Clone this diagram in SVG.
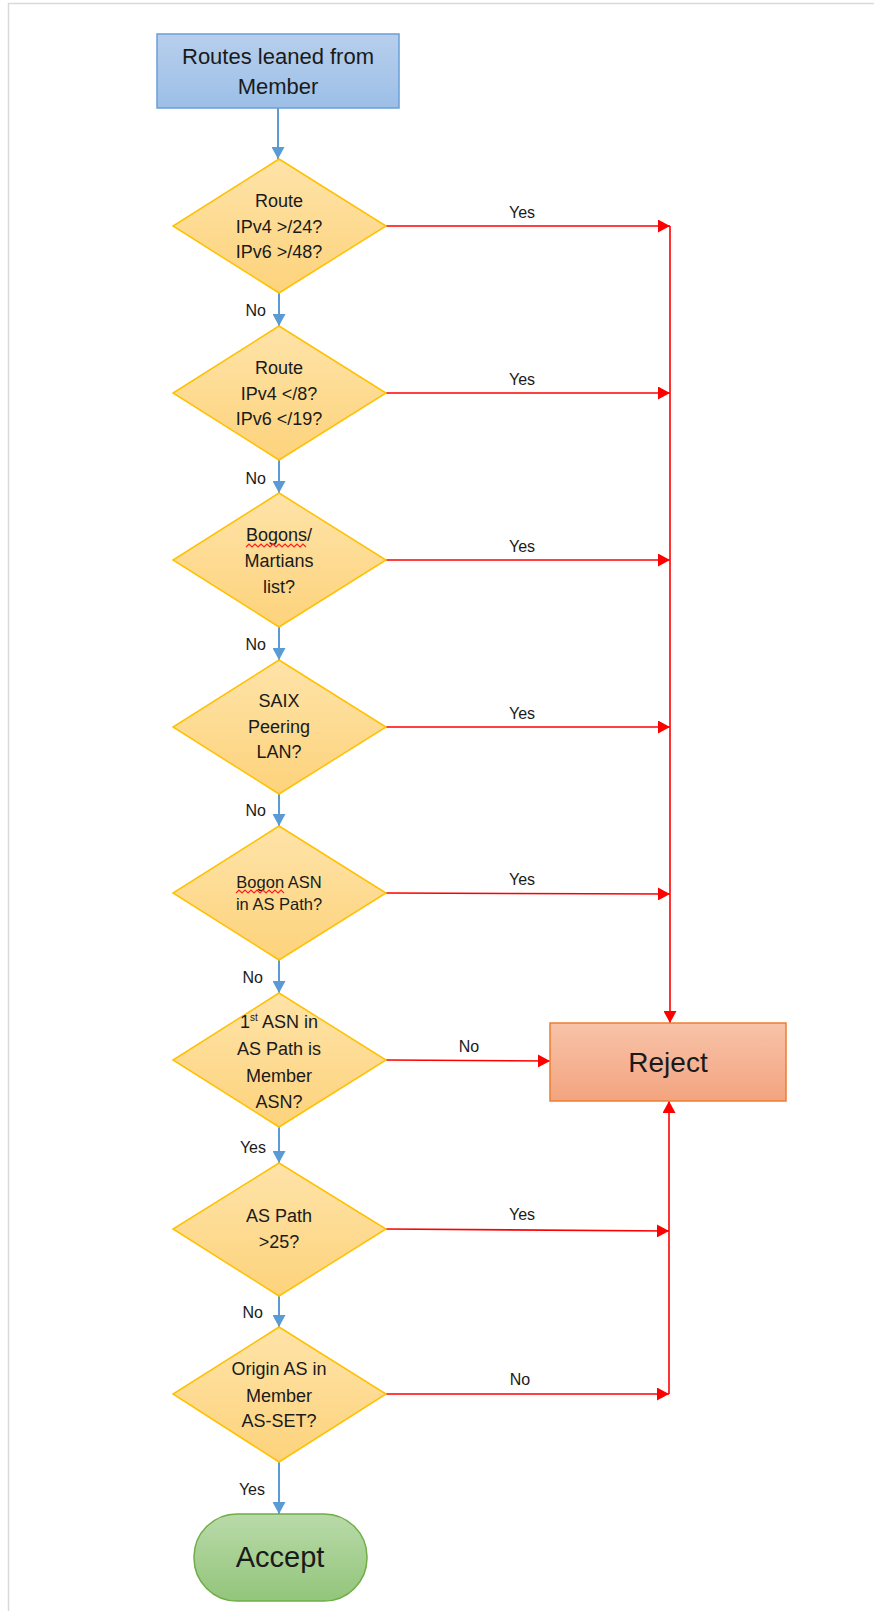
<svg xmlns="http://www.w3.org/2000/svg" width="874" height="1611" viewBox="0 0 874 1611">
<style>
.t{font-family:"Liberation Sans",Arial,sans-serif;fill:#1a1a1a;text-anchor:middle}
.d{font-size:18px}
.lbl{font-family:"Liberation Sans",Arial,sans-serif;font-size:16px;fill:#1a1a1a}
.dia{fill:url(#gY);stroke:#ffc000;stroke-width:1.5}
.blue{stroke:#5b9bd5;stroke-width:2;fill:none;marker-end:url(#aB)}
.redA{stroke:#ff0000;stroke-width:1.6;fill:none;marker-end:url(#aR)}
.sq{stroke:#ff2020;stroke-width:1.2;fill:none}
</style>
<defs>
<linearGradient id="gY" x1="0" y1="0" x2="0" y2="1"><stop offset="0" stop-color="#fee3a8"/><stop offset="1" stop-color="#fdd37c"/></linearGradient>
<linearGradient id="gB" x1="0" y1="0" x2="0" y2="1"><stop offset="0" stop-color="#b7cfec"/><stop offset="1" stop-color="#9cbfe7"/></linearGradient>
<linearGradient id="gR" x1="0" y1="0" x2="0" y2="1"><stop offset="0" stop-color="#f8c3a9"/><stop offset="1" stop-color="#f3a47f"/></linearGradient>
<linearGradient id="gG" x1="0" y1="0" x2="0" y2="1"><stop offset="0" stop-color="#b9daa9"/><stop offset="1" stop-color="#93c57b"/></linearGradient>
<marker id="aB" markerUnits="userSpaceOnUse" markerWidth="13" markerHeight="13" refX="12" refY="6.5" orient="auto"><path d="M0,0 L12,6.5 L0,13 z" fill="#5b9bd5"/></marker>
<marker id="aR" markerUnits="userSpaceOnUse" markerWidth="13" markerHeight="13" refX="12" refY="6.5" orient="auto"><path d="M0,0 L12,6.5 L0,13 z" fill="#ff0000"/></marker>
</defs>
<rect width="874" height="1611" fill="#ffffff"/>
<path d="M8.5,1611 V3.5 H874" stroke="#d9d9d9" stroke-width="1.5" fill="none"/>

<g id="connectors">
<line class="blue" x1="278" y1="108" x2="278" y2="159"/>
<line class="blue" x1="279" y1="293" x2="279" y2="326"/>
<line class="blue" x1="279" y1="460" x2="279" y2="493"/>
<line class="blue" x1="279" y1="627" x2="279" y2="660"/>
<line class="blue" x1="279" y1="794" x2="279" y2="826"/>
<line class="blue" x1="279" y1="960" x2="279" y2="993"/>
<line class="blue" x1="279" y1="1127" x2="279" y2="1163"/>
<line class="blue" x1="279" y1="1296" x2="279" y2="1327"/>
<line class="blue" x1="279" y1="1462" x2="279" y2="1514"/>
<text class="lbl" x="266" y="316" text-anchor="end">No</text>
<text class="lbl" x="266" y="484" text-anchor="end">No</text>
<text class="lbl" x="266" y="650" text-anchor="end">No</text>
<text class="lbl" x="266" y="816" text-anchor="end">No</text>
<text class="lbl" x="263" y="983" text-anchor="end">No</text>
<text class="lbl" x="266" y="1153" text-anchor="end">Yes</text>
<text class="lbl" x="263" y="1318" text-anchor="end">No</text>
<text class="lbl" x="265" y="1495" text-anchor="end">Yes</text>

<line class="redA" x1="386" y1="226" x2="670" y2="226"/>
<line class="redA" x1="386" y1="393" x2="670" y2="393"/>
<line class="redA" x1="386" y1="560" x2="670" y2="560"/>
<line class="redA" x1="386" y1="727" x2="670" y2="727"/>
<line class="redA" x1="386" y1="893" x2="670" y2="894"/>
<line class="redA" x1="386" y1="1060" x2="550" y2="1061"/>
<line class="redA" x1="386" y1="1229" x2="669" y2="1231"/>
<line class="redA" x1="386" y1="1394" x2="669" y2="1394"/>
<line class="redA" x1="670" y1="226" x2="670" y2="1023"/>
<line class="redA" x1="669" y1="1394" x2="669" y2="1101"/>
<text class="lbl" x="522" y="218" text-anchor="middle">Yes</text>
<text class="lbl" x="522" y="385" text-anchor="middle">Yes</text>
<text class="lbl" x="522" y="552" text-anchor="middle">Yes</text>
<text class="lbl" x="522" y="719" text-anchor="middle">Yes</text>
<text class="lbl" x="522" y="885" text-anchor="middle">Yes</text>
<text class="lbl" x="469" y="1052" text-anchor="middle">No</text>
<text class="lbl" x="522" y="1220" text-anchor="middle">Yes</text>
<text class="lbl" x="520" y="1385" text-anchor="middle">No</text>
</g>

<g id="start">
<rect x="157" y="34" width="242" height="74" fill="url(#gB)" stroke="#6a9fd8" stroke-width="1.5"/>
<text class="t" font-size="22" x="278" y="64">Routes leaned from</text>
<text class="t" font-size="22" x="278" y="94">Member</text>
</g>

<g id="d1">
<polygon class="dia" points="279,159 386,226 279,293 173,226"/>
<text class="t d" x="279" y="207">Route</text>
<text class="t d" x="279" y="233">IPv4 &gt;/24?</text>
<text class="t d" x="279" y="258">IPv6 &gt;/48?</text>
</g>

<g id="d2">
<polygon class="dia" points="279,326 386,393 279,460 173,393"/>
<text class="t d" x="279" y="374">Route</text>
<text class="t d" x="279" y="400">IPv4 &lt;/8?</text>
<text class="t d" x="279" y="425">IPv6 &lt;/19?</text>
</g>

<g id="d3">
<polygon class="dia" points="279,493 386,560 279,627 173,560"/>
<text class="t d" x="279" y="541">Bogons/</text>
<text class="t d" x="279" y="567">Martians</text>
<text class="t d" x="279" y="593">list?</text>
<path class="sq" d="M246,547 l3,-3 l3,3 l3,-3 l3,3 l3,-3 l3,3 l3,-3 l3,3 l3,-3 l3,3 l3,-3 l3,3 l3,-3 l3,3 l3,-3 l3,3 l3,-3 l3,3 l3,-3 l3,3"/>
</g>

<g id="d4">
<polygon class="dia" points="279,660 386,727 279,794 173,727"/>
<text class="t d" x="279" y="707">SAIX</text>
<text class="t d" x="279" y="733">Peering</text>
<text class="t d" x="279" y="758">LAN?</text>
</g>

<g id="d5">
<polygon class="dia" points="279,826 386,893 279,960 173,893"/>
<text class="t" font-size="16.5" x="279" y="888">Bogon ASN</text>
<text class="t" font-size="16.5" x="279" y="910">in AS Path?</text>
<path class="sq" d="M236,893 l3,-3 l3,3 l3,-3 l3,3 l3,-3 l3,3 l3,-3 l3,3 l3,-3 l3,3 l3,-3 l3,3 l3,-3 l3,3 l3,-3 l3,3"/>
</g>

<g id="d6">
<polygon class="dia" points="279,993 386,1060 279,1127 173,1060"/>
<text class="t d" x="279" y="1028">1<tspan font-size="10" dy="-7">st</tspan><tspan dy="7"> ASN in</tspan></text>
<text class="t d" x="279" y="1055">AS Path is</text>
<text class="t d" x="279" y="1082">Member</text>
<text class="t d" x="279" y="1108">ASN?</text>
</g>

<g id="d7">
<polygon class="dia" points="279,1163 386,1229 279,1296 173,1229"/>
<text class="t d" x="279" y="1222">AS Path</text>
<text class="t d" x="279" y="1248">&gt;25?</text>
</g>

<g id="d8">
<polygon class="dia" points="279,1327 386,1394 279,1462 173,1394"/>
<text class="t d" x="279" y="1375">Origin AS in</text>
<text class="t d" x="279" y="1402">Member</text>
<text class="t d" x="279" y="1427">AS-SET?</text>
</g>

<g id="reject">
<rect x="550" y="1023" width="236" height="78" fill="url(#gR)" stroke="#ed7d31" stroke-width="1.5"/>
<text class="t" font-size="28" x="668" y="1072">Reject</text>
</g>

<g id="accept">
<rect x="194" y="1514" width="173" height="87" rx="43" ry="43" fill="url(#gG)" stroke="#70ad47" stroke-width="1.5"/>
<text class="t" font-size="29" x="280" y="1567">Accept</text>
</g>
</svg>
